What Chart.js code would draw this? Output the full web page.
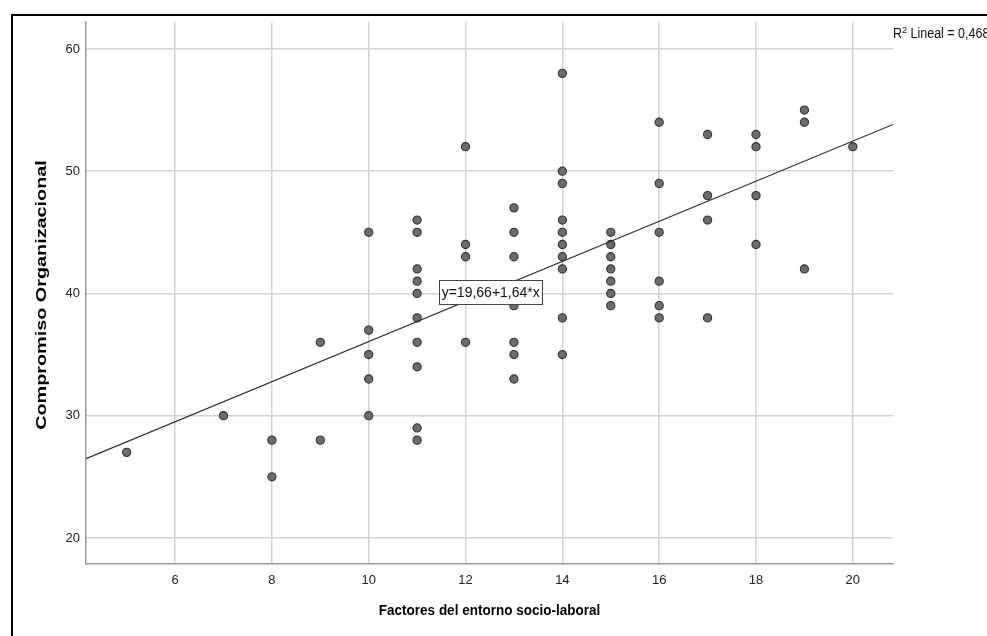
<!DOCTYPE html>
<html>
<head>
<meta charset="utf-8">
<script src="https://cdn.jsdelivr.net/npm/chart.js@4.4.1/dist/chart.umd.min.js"></script>
<style>
  html, body { margin: 0; padding: 0; background: #fff; }
  #wrap { width: 987px; height: 636px; position: relative; }
</style>
</head>
<body>
<div id="wrap"><canvas id="scatter"></canvas></div>
<script>
// Factores del entorno socio-laboral (x) vs Compromiso Organizacional (y)
const entorno = [
  5,
  7,
  8, 8,
  9, 9,
  10, 10, 10, 10, 10,
  11, 11, 11, 11, 11, 11, 11, 11, 11, 11,
  12, 12, 12, 12,
  13, 13, 13, 13, 13, 13, 13,
  14, 14, 14, 14, 14, 14, 14, 14, 14, 14,
  15, 15, 15, 15, 15, 15, 15,
  16, 16, 16, 16, 16, 16,
  17, 17, 17, 17,
  18, 18, 18, 18,
  19, 19, 19,
  20
];
const compromiso = [
  27,
  30,
  28, 25,
  36, 28,
  45, 37, 35, 33, 30,
  46, 45, 42, 41, 40, 38, 36, 34, 29, 28,
  52, 44, 43, 36,
  47, 45, 43, 39, 36, 35, 33,
  58, 50, 49, 46, 45, 44, 43, 42, 38, 35,
  45, 44, 43, 42, 41, 40, 39,
  54, 49, 45, 41, 39, 38,
  53, 48, 46, 38,
  53, 52, 48, 44,
  55, 54, 42,
  52
];

const xTicks = [6, 8, 10, 12, 14, 16, 18, 20];
const yTicks = [20, 30, 40, 50, 60];
const xRange = [4.16, 20.83];
const yRange = [17.87, 62.2];

const xTitle = 'Factores del entorno socio-laboral';
const yTitle = 'Compromiso Organizacional';

// fit line y = 19,66 + 1,64*x, R2 = 0,468
const intercept = 19.66;
const slope = 1.64;
const r2Text = '0,468';
const eqText = 'y=19,66+1,64*x';

const FONT = '"Liberation Sans", Arial, Helvetica, sans-serif';

const points = entorno.map((x, i) => ({ x: x, y: compromiso[i] }));
const fitLine = xRange.map(x => ({ x: x, y: intercept + slope * x }));

// some of the source text is drawn a little stretched, so text goes through here
function drawText(ctx, text, x, y, opts) {
  ctx.save();
  ctx.translate(x, y);
  if (opts.rotate) ctx.rotate(-Math.PI / 2);
  ctx.scale(opts.sx || 1, opts.sy || 1);
  ctx.font = opts.font;
  ctx.fillStyle = opts.color || '#222';
  ctx.textAlign = opts.align || 'center';
  ctx.textBaseline = opts.baseline || 'middle';
  ctx.fillText(text, 0, 0);
  ctx.restore();
}

const overlayPlugin = {
  id: 'overlayPlugin',
  beforeDraw(chart) {
    const ctx = chart.ctx;
    ctx.save();
    ctx.fillStyle = '#fff';
    ctx.fillRect(0, 0, chart.width, chart.height);
    // outer frame (only top and left visible)
    ctx.strokeStyle = '#000';
    ctx.lineWidth = 2;
    ctx.beginPath();
    ctx.moveTo(12, chart.height + 2);
    ctx.lineTo(12, 15);
    ctx.lineTo(chart.width + 2, 15);
    ctx.stroke();
    ctx.restore();
  },
  afterDatasetsDraw(chart) {
    const ctx = chart.ctx;
    const xs = chart.scales.x, ys = chart.scales.y;
    const area = chart.chartArea;
    ctx.save();

    // tick labels
    const tickFont = '13px ' + FONT;
    xs.ticks.forEach(t => {
      drawText(ctx, String(t.value), xs.getPixelForValue(t.value), area.bottom + 16,
        { font: tickFont, sy: 1.05 });
    });
    ys.ticks.forEach(t => {
      drawText(ctx, String(t.value), area.left - 6, ys.getPixelForValue(t.value),
        { font: tickFont, sy: 1.05, align: 'right' });
    });

    // axis titles
    drawText(ctx, xTitle, (area.left + area.right) / 2, 611,
      { font: 'bold 13.5px ' + FONT, sy: 1.08, color: '#000' });
    drawText(ctx, yTitle, 42, (area.top + area.bottom) / 2 + 2,
      { font: 'bold 15px ' + FONT, sx: 1.32, rotate: true, color: '#000' });

    // equation label box
    const cx = xs.getPixelForValue(12.52);
    const cy = ys.getPixelForValue(40.15);
    ctx.font = '14px ' + FONT;
    const w = Math.round(ctx.measureText(eqText).width + 5);
    const h = 24;
    const bx = Math.round(cx - w / 2) + 0.5, by = Math.round(cy - h / 2) + 0.5;
    ctx.fillStyle = '#fff';
    ctx.fillRect(bx, by, w, h);
    ctx.strokeStyle = '#444';
    ctx.lineWidth = 1;
    ctx.strokeRect(bx, by, w, h);
    drawText(ctx, eqText, cx, cy + 1, { font: '14px ' + FONT, sy: 1.1, color: '#111' });

    // R2 label, top right
    const rx = area.right;
    ctx.font = '12.5px ' + FONT;
    const rw = ctx.measureText('R').width;
    drawText(ctx, 'R', rx, 38, { font: '12.5px ' + FONT, sy: 1.1, align: 'left', baseline: 'alphabetic', color: '#111' });
    drawText(ctx, '2', rx + rw, 33, { font: '9px ' + FONT, sy: 1.1, align: 'left', baseline: 'alphabetic', color: '#111' });
    ctx.font = '9px ' + FONT;
    const tw = ctx.measureText('2').width;
    drawText(ctx, ' Lineal = ' + r2Text, rx + rw + tw, 38,
      { font: '12.5px ' + FONT, sy: 1.1, align: 'left', baseline: 'alphabetic', color: '#111' });
    ctx.restore();
  }
};

new Chart(document.getElementById('scatter'), {
  type: 'scatter',
  data: {
    datasets: [
      {
        type: 'line',
        label: 'Lineal',
        data: fitLine,
        borderColor: '#2a2a2a',
        borderWidth: 1.2,
        pointRadius: 0,
        fill: false,
        order: 0
      },
      {
        label: 'Compromiso',
        data: points,
        backgroundColor: '#6c6c6c',
        borderColor: '#333',
        borderWidth: 1.1,
        pointRadius: 4.1,
        order: 1
      }
    ]
  },
  options: {
    responsive: true,
    maintainAspectRatio: false,
    animation: false,
    layout: { padding: { left: 0, top: 22, right: 94, bottom: 0 } },
    plugins: {
      legend: { display: false },
      tooltip: { enabled: false }
    },
    scales: {
      x: {
        type: 'linear',
        min: xRange[0],
        max: xRange[1],
        afterBuildTicks: s => { s.ticks = xTicks.map(v => ({ value: v })); },
        afterFit: s => { s.height = 72; },
        grid: { color: '#d2d2d2', lineWidth: 1.5, drawTicks: false },
        border: { color: '#999', width: 1.5 },
        ticks: { display: false },
        title: { display: false }
      },
      y: {
        type: 'linear',
        min: yRange[0],
        max: yRange[1],
        afterBuildTicks: s => { s.ticks = yTicks.map(v => ({ value: v })); },
        afterFit: s => { s.width = 86; },
        grid: { color: '#d2d2d2', lineWidth: 1.5, drawTicks: false },
        border: { color: '#999', width: 1.5 },
        ticks: { display: false },
        title: { display: false }
      }
    }
  },
  plugins: [overlayPlugin]
});
</script>
</body>
</html>
